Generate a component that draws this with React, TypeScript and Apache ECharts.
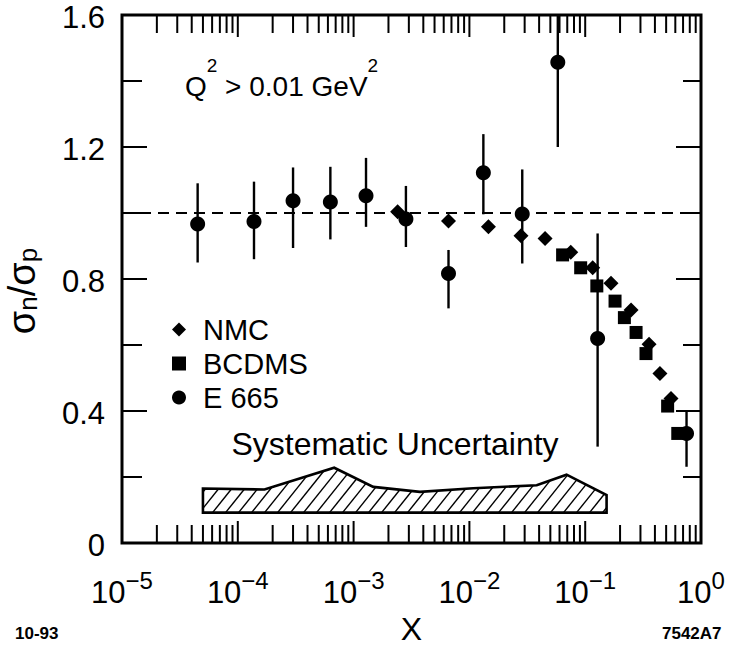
import React, { useEffect, useRef } from "react";
import * as echarts from "echarts";

// ---- data ----
const nmcX = [0.0024, 0.0066, 0.0146, 0.0279, 0.045, 0.075, 0.116, 0.167, 0.249, 0.356, 0.442, 0.551];
const nmcY = [1.004, 0.976, 0.958, 0.931, 0.923, 0.881, 0.834, 0.787, 0.706, 0.602, 0.514, 0.438];

const bcdmsX = [0.0638, 0.0914, 0.126, 0.181, 0.218, 0.275, 0.335, 0.515, 0.63];
const bcdmsY = [0.873, 0.834, 0.779, 0.733, 0.683, 0.638, 0.574, 0.415, 0.332];

const e665X = [4.5e-5, 1.38e-4, 3.0e-4, 6.3e-4, 1.28e-3, 2.83e-3, 6.6e-3, 1.32e-2, 2.86e-2, 0.058, 0.128, 0.75];
const e665Y = [0.967, 0.974, 1.037, 1.033, 1.052, 0.982, 0.817, 1.122, 0.997, 1.457, 0.62, 0.332];
const e665Lo = [0.85, 0.86, 0.894, 0.92, 0.958, 0.897, 0.711, 0.996, 0.847, 1.2, 0.292, 0.231];
const e665Hi = [1.09, 1.095, 1.138, 1.14, 1.167, 1.082, 0.888, 1.239, 1.132, 1.72, 0.938, 0.403];

const bandX = [5.0e-5, 1.7e-4, 6.8e-4, 1.48e-3, 3.74e-3, 1.08e-2, 3.81e-2, 6.9e-2, 0.153];
const bandTop = [0.165, 0.162, 0.228, 0.17, 0.155, 0.166, 0.175, 0.207, 0.145];
const bandBottom = 0.092;

const referenceRatio = 1.0;

const X_MIN = 1e-5;
const X_MAX = 1;
const Y_MIN = 0;
const Y_MAX = 1.6;

const xTickExponents = ["\u22125", "\u22124", "\u22123", "\u22122", "\u22121", "0"];
const yTickLabels = ["0", "0.4", "0.8", "1.2", "1.6"];
const xDecades = [-5, -4, -3, -2, -1, 0];
const minorMantissas = [2, 3, 4, 5, 6, 7, 8, 9];
const yTickValues = [0.2, 0.4, 0.6, 0.8, 1.0, 1.2, 1.4];
const yMajorTicks = [0.4, 0.8, 1.2];

const FONT = "'Liberation Sans', Arial, Helvetica, sans-serif";

function hatchSegments(poly: number[][], spacing: number, dx: number) {
  const xs = poly.map((p) => p[0]);
  const ys = poly.map((p) => p[1]);
  const minX = Math.min(...xs);
  const maxX = Math.max(...xs);
  const minY = Math.min(...ys);
  const maxY = Math.max(...ys);
  const H = maxY - minY;
  const segs: number[][] = [];
  const n = poly.length;
  for (let c = minX - H * dx + spacing / 2; c <= maxX; c += spacing) {
    const ts: number[] = [];
    for (let i = 0; i < n; i++) {
      const a = poly[i];
      const b = poly[(i + 1) % n];
      const ex = b[0] - a[0];
      const ey = b[1] - a[1];
      const den = ex + dx * ey;
      if (Math.abs(den) < 1e-9) continue;
      const u = (c + dx * (maxY - a[1]) - a[0]) / den;
      if (u < 0 || u >= 1) continue;
      const t = maxY - a[1] - u * ey;
      ts.push(t);
    }
    ts.sort((p, q) => p - q);
    for (let k = 0; k + 1 < ts.length; k += 2) {
      segs.push([c + dx * ts[k], maxY - ts[k], c + dx * ts[k + 1], maxY - ts[k + 1]]);
    }
  }
  return segs;
}

export default function App() {
  const ref = useRef<HTMLDivElement>(null);

  useEffect(() => {
    if (!ref.current) return;
    const chart = echarts.init(ref.current, null, { renderer: "svg" });

    // tick items: [x, y, kind(0 = x tick, 1 = y tick, 2 = frame), major]
    const tickItems: number[][] = [];
    tickItems.push([X_MIN, Y_MIN, 2, 0]);
    xDecades.forEach((d) => {
      tickItems.push([Math.pow(10, d), Y_MIN, 0, 1]);
      if (d < 0) minorMantissas.forEach((m) => tickItems.push([m * Math.pow(10, d), Y_MIN, 0, 0]));
    });
    yTickValues.forEach((v) =>
      tickItems.push([X_MIN, v, 1, yMajorTicks.some((m) => Math.abs(m - v) < 1e-9) ? 1 : 0])
    );

    const xLabelFormatter = (v: number) => {
      const idx = Math.round(Math.log10(v)) + 5;
      return `{b|10}{s|${xTickExponents[idx]}}`;
    };
    const yLabelFormatter = (v: number) => {
      const idx = Math.round(v / 0.4);
      return `{v|${yTickLabels[idx] ?? ""}}`;
    };

    const option: any = {
      animation: false,
      textStyle: { fontFamily: FONT, color: "#000" },
      grid: { left: 122, top: 15, width: 579, height: 528, containLabel: false, outerBoundsMode: "none" },
      legend: {
        orient: "vertical",
        left: 167,
        top: 310,
        itemWidth: 14,
        itemHeight: 14,
        itemGap: 5,
        selectedMode: false,
        textStyle: { fontFamily: FONT, fontSize: 29, lineHeight: 29, color: "#000", padding: [0, 0, 0, 12] },
        data: [{ name: "NMC" }, { name: "BCDMS" }, { name: "E 665" }],
      },
      xAxis: [
        {
          type: "log",
          logBase: 10,
          min: X_MIN,
          max: X_MAX,
          position: "bottom",
          name: "X",
          nameLocation: "middle",
          nameGap: 70,
          nameTextStyle: { fontFamily: FONT, fontSize: 32, color: "#000" },
          axisLine: { show: false },
          axisTick: { show: false },
          axisLabel: {
            show: true,
            margin: 25,
            formatter: xLabelFormatter,
            rich: {
              b: { fontFamily: FONT, fontSize: 31, lineHeight: 40, verticalAlign: "bottom", color: "#000" },
              s: { fontFamily: FONT, fontSize: 24, lineHeight: 17, verticalAlign: "top", color: "#000" },
            },
          },
          splitLine: { show: false },
          minorTick: { show: false },
        },
      ],
      yAxis: [
        {
          type: "value",
          min: Y_MIN,
          max: Y_MAX,
          interval: 0.4,
          position: "left",
          name: "{a|\u03c3}{s|n}{a|/\u03c3}{s|p}",
          nameLocation: "middle",
          nameRotate: 90,
          nameGap: 81,
          nameTextStyle: {
            padding: [0, 24, 0, 0],
            rich: {
              a: { fontFamily: FONT, fontSize: 38, lineHeight: 38, verticalAlign: "top", color: "#000" },
              s: { fontFamily: FONT, fontSize: 26, lineHeight: 26, verticalAlign: "bottom", padding: [20, 0, 0, 0], color: "#000" },
            },
          },
          axisLine: { show: false },
          axisTick: { show: false },
          minorTick: { show: false },
          axisLabel: {
            show: true,
            margin: 17,
            formatter: yLabelFormatter,
            rich: {
              v: { fontFamily: FONT, fontSize: 31, lineHeight: 31, padding: [5, 0, 0, 0], color: "#000" },
            },
          },
          splitLine: { show: false },
        },
      ],
      series: [
        {
          name: "frame",
          type: "custom",
          silent: true,
          encode: { x: 0, y: 1 },
          data: tickItems,
          renderItem: (params: any, api: any) => {
            const kind = api.value(2);
            const major = api.value(3);
            const st = () => ({ stroke: "#000", lineWidth: 2 });
            if (kind === 2) {
              const tl = api.coord([X_MIN, Y_MAX]);
              const br = api.coord([X_MAX, Y_MIN]);
              return {
                type: "rect",
                shape: { x: tl[0], y: tl[1], width: br[0] - tl[0], height: br[1] - tl[1] },
                style: { fill: "none", stroke: "#000", lineWidth: 3 },
              };
            }
            if (kind === 0) {
              const v = api.value(0);
              const len = major ? 22 : 18;
              const b = api.coord([v, Y_MIN]);
              const t = api.coord([v, Y_MAX]);
              return {
                type: "group",
                children: [
                  { type: "line", shape: { x1: b[0], y1: b[1], x2: b[0], y2: b[1] - len }, style: st() },
                  { type: "line", shape: { x1: t[0], y1: t[1], x2: t[0], y2: t[1] + len }, style: st() },
                ],
              };
            }
            const v = api.value(1);
            const l = api.coord([X_MIN, v]);
            const r = api.coord([X_MAX, v]);
            const ll = major ? 25 : 20;
            const rl = major ? 25 : 18;
            return {
              type: "group",
              children: [
                { type: "line", shape: { x1: l[0], y1: l[1], x2: l[0] + ll, y2: l[1] }, style: st() },
                { type: "line", shape: { x1: r[0], y1: r[1], x2: r[0] - rl, y2: r[1] }, style: st() },
              ],
            };
          },
          z: 1,
        },
        {
          name: "ref",
          type: "line",
          silent: true,
          symbol: "none",
          data: [
            [X_MIN, referenceRatio],
            [X_MAX, referenceRatio],
          ],
          lineStyle: { color: "#000", width: 2, type: [11, 7] },
          z: 2,
        },
        {
          name: "band",
          type: "custom",
          silent: true,
          encode: { x: 0, y: 1 },
          data: bandX.map((x, i) => [x, bandTop[i]]),
          renderItem: (params: any, api: any) => {
            if (params.dataIndex !== 0) return null;
            const top = bandX.map((x, i) => api.coord([x, bandTop[i]]));
            const bottomR = api.coord([bandX[bandX.length - 1], bandBottom]);
            const bottomL = api.coord([bandX[0], bandBottom]);
            const poly = [...top, bottomR, bottomL];
            const segs = hatchSegments(poly, 13, 0.8);
            const children: any[] = segs.map((s) => ({
              type: "line",
              shape: { x1: s[0], y1: s[1], x2: s[2], y2: s[3] },
              style: { stroke: "#000", lineWidth: 1.4 },
            }));
            children.push({
              type: "polygon",
              shape: { points: poly },
              style: { fill: "none", stroke: "#000", lineWidth: 2.6, lineJoin: "miter" },
            });
            return { type: "group", children };
          },
          z: 3,
        },
        {
          name: "errors",
          type: "custom",
          silent: true,
          encode: { x: 0, y: [1, 2] },
          data: e665X.map((x, i) => [x, e665Lo[i], e665Hi[i]]),
          renderItem: (params: any, api: any) => {
            const x = api.value(0);
            const lo = api.coord([x, Math.max(Y_MIN, api.value(1))]);
            const hi = api.coord([x, Math.min(Y_MAX, api.value(2))]);
            return {
              type: "line",
              shape: { x1: lo[0], y1: lo[1], x2: hi[0], y2: hi[1] },
              style: { stroke: "#000", lineWidth: 2.4 },
            };
          },
          z: 4,
        },
        {
          name: "NMC",
          type: "scatter",
          symbol: "diamond",
          symbolSize: 15,
          itemStyle: { color: "#000", opacity: 1 },
          data: nmcX.map((x, i) => [x, nmcY[i]]),
          z: 5,
        },
        {
          name: "BCDMS",
          type: "scatter",
          symbol: "rect",
          symbolSize: 13,
          itemStyle: { color: "#000", opacity: 1 },
          data: bcdmsX.map((x, i) => [x, bcdmsY[i]]),
          z: 6,
        },
        {
          name: "E 665",
          type: "scatter",
          symbol: "circle",
          symbolSize: 15,
          itemStyle: { color: "#000", opacity: 1 },
          data: e665X.map((x, i) => [x, e665Y[i]]),
          z: 7,
        },
      ],
      graphic: [
        {
          type: "text",
          left: 185,
          top: 56,
          style: {
            text: "{b|Q}{s|2}{b| > 0.01 GeV}{s|2}",
            rich: {
              b: { fontFamily: FONT, fontSize: 28, lineHeight: 44, verticalAlign: "bottom", fill: "#000" },
              s: { fontFamily: FONT, fontSize: 19, lineHeight: 20, verticalAlign: "top", fill: "#000" },
            },
          },
        },
        {
          type: "text",
          x: 395,
          y: 444,
          style: {
            text: "Systematic Uncertainty",
            fontFamily: FONT,
            fontSize: 32,
            fill: "#000",
            align: "center",
            verticalAlign: "middle",
          },
        },
        {
          type: "text",
          x: 15,
          y: 633,
          style: { text: "10-93", fontFamily: FONT, fontSize: 17, fontWeight: "bold", fill: "#000", verticalAlign: "middle" },
        },
        {
          type: "text",
          x: 662,
          y: 633,
          style: { text: "7542A7", fontFamily: FONT, fontSize: 17, fontWeight: "bold", fill: "#000", verticalAlign: "middle" },
        },
      ],
    };

    chart.setOption(option);
    return () => chart.dispose();
  }, []);

  return (
    <div
      ref={ref}
      style={{ position: "fixed", left: 0, top: 0, width: 729, height: 647, background: "#fff" }}
    />
  );
}
